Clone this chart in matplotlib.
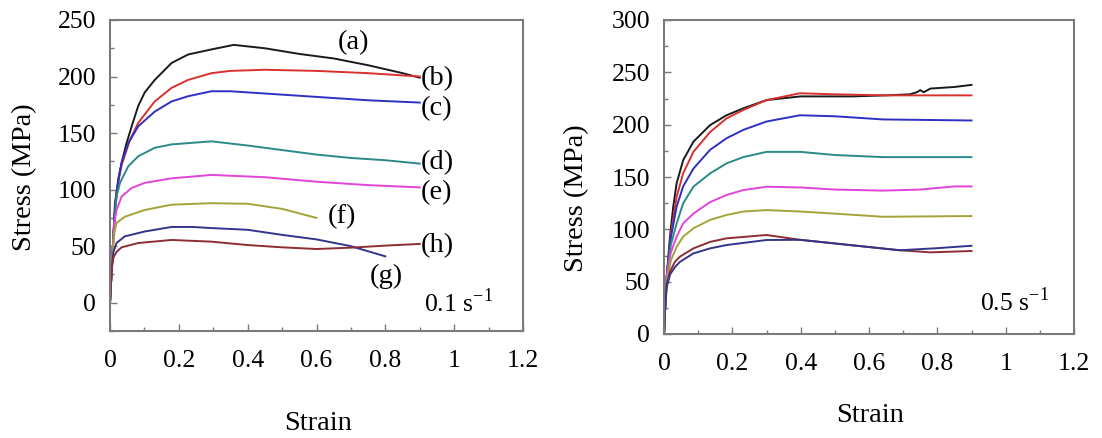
import matplotlib
matplotlib.use("Agg")
import matplotlib.pyplot as plt
from matplotlib.ticker import MultipleLocator

plt.rcParams['font.family'] = ['Liberation Serif', 'DejaVu Serif']
plt.rcParams['mathtext.fontset'] = 'custom'
plt.rcParams['mathtext.rm'] = 'Liberation Serif'

# ---- data: 0.1 s^-1 (left panel) ----
left_labels = ['(a)', '(b)', '(c)', '(d)', '(e)', '(f)', '(g)', '(h)']
left_colors = ['#1a1a1a', '#d8312f', '#2f2fc4', '#2a8a88', '#e044d8', '#a6a23a', '#34348a', '#8c2e34']

a_strain = [0, 0.005, 0.01, 0.0145, 0.024, 0.034, 0.048, 0.063, 0.082, 0.101, 0.13, 0.179, 0.227, 0.295, 0.36, 0.45, 0.55, 0.65, 0.75, 0.85, 0.9]
a_stress = [0, 30, 60, 88, 109, 124, 141, 156, 174, 186, 197, 212, 219.5, 224, 228, 225, 220, 216, 210, 203, 199]
b_strain = [0, 0.005, 0.01, 0.015, 0.025, 0.034, 0.058, 0.082, 0.13, 0.179, 0.227, 0.295, 0.35, 0.45, 0.6, 0.75, 0.9]
b_stress = [0, 30, 60, 85, 108, 122, 144, 159, 178, 190, 197, 203, 205, 206, 205, 203, 200]
c_strain = [0, 0.005, 0.01, 0.015, 0.025, 0.034, 0.053, 0.082, 0.13, 0.179, 0.227, 0.295, 0.35, 0.45, 0.6, 0.75, 0.9]
c_stress = [0, 30, 60, 85, 110, 124, 141, 156, 169, 178, 182.6, 187, 187, 185, 182, 179, 177]
d_strain = [0, 0.005, 0.01, 0.019, 0.029, 0.053, 0.082, 0.13, 0.179, 0.295, 0.4, 0.5, 0.6, 0.7, 0.8, 0.9]
d_stress = [0, 30, 60, 94, 106, 120.6, 129.5, 137, 140, 142.7, 139, 135, 131, 128, 126, 123]
e_strain = [0, 0.005, 0.0125, 0.019, 0.034, 0.063, 0.101, 0.179, 0.295, 0.45, 0.6, 0.75, 0.9]
e_stress = [0, 30, 70.5, 82, 94, 101.5, 106, 110, 113, 111, 107, 104, 102]
f_strain = [0, 0.005, 0.0125, 0.019, 0.043, 0.101, 0.179, 0.295, 0.4, 0.5, 0.6]
f_stress = [0, 30, 61.6, 70.5, 76, 82, 86.7, 88, 87.5, 83, 75]
g_strain = [0, 0.005, 0.01, 0.019, 0.043, 0.101, 0.179, 0.24, 0.295, 0.4, 0.5, 0.6, 0.7, 0.8]
g_stress = [0, 30, 45, 52.8, 58.7, 63, 67, 67, 66, 64.5, 60, 56, 50, 41]
h_strain = [0, 0.005, 0.01, 0.019, 0.034, 0.082, 0.179, 0.295, 0.4, 0.5, 0.6, 0.7, 0.8, 0.9]
h_stress = [0, 30, 40, 45, 49, 52.8, 55.5, 54, 51, 49, 47.5, 48.7, 50.5, 52]

left_strain = [a_strain, b_strain, c_strain, d_strain, e_strain, f_strain, g_strain, h_strain]
left_stress = [a_stress, b_stress, c_stress, d_stress, e_stress, f_stress, g_stress, h_stress]
# label anchor points (strain, stress)
label_x = [0.661, 0.903, 0.903, 0.903, 0.903, 0.633, 0.754, 0.903]
label_y = [230, 198.5, 171.7, 124, 97, 76, 23, 50.4]

# ---- data: 0.5 s^-1 (right panel) ----
right_colors = ['#1a1a1a', '#d8312f', '#2f2fc4', '#2a8a88', '#e044d8', '#a6a23a', '#8c2e34', '#34348a']

k_strain = [0, 0.004, 0.008, 0.0175, 0.027, 0.037, 0.056, 0.086, 0.135, 0.183, 0.232, 0.30, 0.4, 0.55, 0.65, 0.72, 0.74, 0.75, 0.76, 0.78, 0.85, 0.9]
k_stress = [0, 30, 55, 93, 121.6, 144, 166, 183.7, 199.6, 209, 215.6, 223.5, 227, 227, 228, 229, 231, 233, 231, 234.5, 236, 238]
r_strain = [0, 0.004, 0.008, 0.02, 0.037, 0.056, 0.086, 0.135, 0.183, 0.232, 0.30, 0.398, 0.5, 0.65, 0.8, 0.9]
r_stress = [0, 30, 55, 95, 131, 153.5, 174, 193, 206, 214, 223.5, 230, 229, 228, 228, 228]
bl_strain = [0, 0.004, 0.008, 0.02, 0.037, 0.056, 0.086, 0.135, 0.183, 0.232, 0.30, 0.398, 0.5, 0.641, 0.9]
bl_stress = [0, 30, 55, 92, 121.6, 141, 158, 176, 187, 195, 203, 209, 208, 205, 204]
t_strain = [0, 0.004, 0.008, 0.02, 0.037, 0.056, 0.086, 0.135, 0.183, 0.232, 0.30, 0.4, 0.5, 0.641, 0.9]
t_stress = [0, 30, 55, 85, 105.7, 124.8, 140.7, 153.5, 163, 169, 174, 174, 171, 169, 169]
m_strain = [0, 0.004, 0.008, 0.02, 0.037, 0.056, 0.086, 0.135, 0.183, 0.232, 0.30, 0.4, 0.5, 0.641, 0.75, 0.85, 0.9]
m_stress = [0, 30, 55, 78, 93, 105.7, 115, 126, 132.8, 137.5, 140.7, 140, 138, 137, 138, 141, 141]
o_strain = [0, 0.004, 0.008, 0.02, 0.037, 0.056, 0.086, 0.135, 0.183, 0.232, 0.30, 0.4, 0.5, 0.641, 0.9]
o_stress = [0, 30, 50, 70, 83.4, 93, 101, 109, 113.7, 117, 118.4, 117, 115, 112, 112.7]
dr_strain = [0, 0.004, 0.008, 0.018, 0.032, 0.047, 0.086, 0.135, 0.183, 0.30, 0.398, 0.544, 0.69, 0.78, 0.9]
dr_stress = [0, 30, 48, 60, 69, 74, 81.8, 88, 91.4, 94.6, 90, 85, 80, 78, 79.3]
n_strain = [0, 0.004, 0.008, 0.018, 0.032, 0.047, 0.086, 0.135, 0.183, 0.30, 0.398, 0.544, 0.69, 0.8, 0.9]
n_stress = [0, 28, 45, 57, 64, 69, 77, 81.8, 85, 89.8, 90, 85, 80, 82, 84.3]

right_strain = [k_strain, r_strain, bl_strain, t_strain, m_strain, o_strain, dr_strain, n_strain]
right_stress = [k_stress, r_stress, bl_stress, t_stress, m_stress, o_stress, dr_stress, n_stress]

FS = 18.5
LFS = 20.5
SPINE = '#7a7a7a'

fig = plt.figure(figsize=(11.02, 4.38), dpi=100)
ax1 = fig.add_axes([110 / 1102, 107 / 438, 413 / 1102, 311 / 438])
ax2 = fig.add_axes([664 / 1102, 104 / 438, 410 / 1102, 314 / 438])


def style(ax, ymin, ymax):
    ax.set_xlim(0, 1.2)
    ax.set_ylim(ymin, ymax)
    ax.xaxis.set_major_locator(MultipleLocator(0.2))
    ax.xaxis.set_minor_locator(MultipleLocator(0.1))
    ax.yaxis.set_major_locator(MultipleLocator(50))
    ax.yaxis.set_minor_locator(MultipleLocator(25))
    ax.xaxis.set_major_formatter(plt.FuncFormatter(lambda v, p: '%g' % round(v, 2)))
    ax.tick_params(which='both', direction='in', top=False, right=False,
                   color=SPINE, labelsize=FS)
    ax.tick_params(which='major', length=5, width=1)
    ax.tick_params(which='minor', length=3, width=1)
    ax.tick_params(axis='x', pad=14)
    ax.tick_params(axis='y', pad=10)
    for sp in ax.spines.values():
        sp.set_color(SPINE)
        sp.set_linewidth(1.5)


for xs, ys, c in zip(left_strain, left_stress, left_colors):
    ax1.plot(xs, ys, color=c, lw=1.4)
for lab, lx, ly in zip(left_labels, label_x, label_y):
    ax1.text(lx, ly, lab, fontsize=LFS, ha='left', va='center')
ax1.text(0.913, 0, r'0.1 s$^{\mathregular{-1}}$', fontsize=FS, ha='left', va='center')
style(ax1, -25, 250)
ax1.set_yticks([0, 50, 100, 150, 200, 250])

for xs, ys, c in zip(right_strain, right_stress, right_colors):
    ax2.plot(xs, ys, color=c, lw=1.4)
ax2.text(0.924, 31, r'0.5 s$^{\mathregular{-1}}$', fontsize=FS, ha='left', va='center')
style(ax2, 0, 300)

fig.text(25 / 1102, 1 - 177 / 438, 'Stress (MPa)', fontsize=LFS, rotation=90, ha='center', va='center')
fig.text(318 / 1102, 1 - 423 / 438, 'Strain', fontsize=LFS, ha='center', va='center')
fig.text(577 / 1102, 1 - 198 / 438, 'Stress (MPa)', fontsize=LFS, rotation=90, ha='center', va='center')
fig.text(870 / 1102, 1 - 415 / 438, 'Strain', fontsize=LFS, ha='center', va='center')

fig.savefig('out.png', dpi=100)
